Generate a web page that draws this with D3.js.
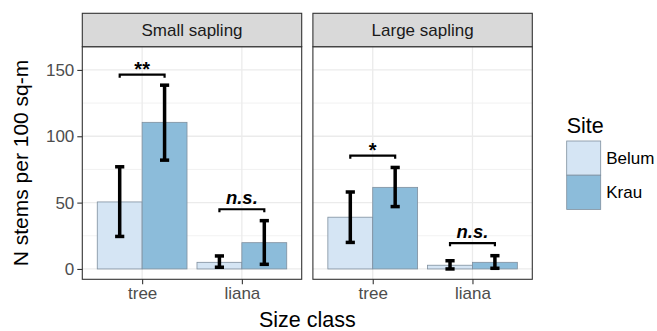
<!DOCTYPE html>
<html>
<head>
<meta charset="utf-8">
<script src="https://cdn.jsdelivr.net/npm/d3@7"></script>
<style>
  html, body { margin: 0; padding: 0; background: #fff; }
  svg { display: block; font-family: "Liberation Sans", Arial, Helvetica, sans-serif; }
</style>
</head>
<body>
<svg id="chart" width="657" height="331"></svg>
<script>
// ---- data ----
const panels = ["Small sapling", "Large sapling"];
const categories = ["tree", "liana"];
const sites = ["Belum", "Krau"];
const yTicks = [0, 50, 100, 150];

// mean values per panel, per site, per category [tree, liana]
const smallBelum = [50.5, 5.0];
const smallKrau = [110.5, 19.8];
const largeBelum = [39.0, 2.8];
const largeKrau = [61.5, 5.0];

// error bar lower / upper
const smallBelumLow = [24.5, 1.3];
const smallBelumHigh = [77.0, 9.8];
const smallKrauLow = [82.0, 3.5];
const smallKrauHigh = [138.5, 36.4];
const largeBelumLow = [20.0, 0.0];
const largeBelumHigh = [58.0, 6.2];
const largeKrauLow = [47.0, 0.5];
const largeKrauHigh = [76.5, 10.0];

// significance brackets: y position and label per panel, per category
const smallSigY = [146.4, 45.0];
const smallSigLabel = ["**", "n.s."];
const largeSigY = [85.4, 19.4];
const largeSigLabel = ["*", "n.s."];

// ---- build table ----
const panelData = [
  { name: panels[0], means: [smallBelum, smallKrau], low: [smallBelumLow, smallKrauLow], high: [smallBelumHigh, smallKrauHigh], sigY: smallSigY, sigLabel: smallSigLabel },
  { name: panels[1], means: [largeBelum, largeKrau], low: [largeBelumLow, largeKrauLow], high: [largeBelumHigh, largeKrauHigh], sigY: largeSigY, sigLabel: largeSigLabel }
];

const colors = { Belum: "#d5e5f4", Krau: "#8cbcda" };

// ---- layout ----
const svg = d3.select("#chart");
const stripTop = 13.3, stripBottom = 46.7, panelBottom = 279.3;
const panelX = [82.3, 312.9];
const panelW = 219.4;

const y = d3.scaleLinear().domain([-7.8, 167.5]).range([panelBottom, stripBottom]);

// ggplot-style discrete expansion: positions at 0.6 and 1.6 of 2.2 units
const unit = panelW / 2.2;
const xCenter = d3.scalePoint().domain(categories).range([0.6 * unit, 1.6 * unit]);
const dodge = d3.scaleBand().domain(sites).range([-0.45 * unit, 0.45 * unit]).padding(0);

const minorTicks = [25, 75, 125];

panelData.forEach((p, pi) => {
  const g = svg.append("g").attr("transform", `translate(${panelX[pi]},0)`);

  g.append("rect").attr("x", 0).attr("y", stripBottom).attr("width", panelW).attr("height", panelBottom - stripBottom).attr("fill", "#fff");

  g.selectAll(".minor").data(minorTicks).enter().append("line")
    .attr("x1", 0).attr("x2", panelW)
    .attr("y1", d => y(d)).attr("y2", d => y(d))
    .attr("stroke", "#ebebeb").attr("stroke-width", 0.7);
  g.selectAll(".major").data(yTicks).enter().append("line")
    .attr("x1", 0).attr("x2", panelW)
    .attr("y1", d => y(d)).attr("y2", d => y(d))
    .attr("stroke", "#ebebeb").attr("stroke-width", 1.3);
  g.selectAll(".vmajor").data(categories).enter().append("line")
    .attr("x1", d => xCenter(d)).attr("x2", d => xCenter(d))
    .attr("y1", stripBottom).attr("y2", panelBottom)
    .attr("stroke", "#ebebeb").attr("stroke-width", 1.3);

  // bars
  sites.forEach((s, si) => {
    g.selectAll(".bar" + si).data(categories).enter().append("rect")
      .attr("x", d => xCenter(d) + dodge(s))
      .attr("width", dodge.bandwidth())
      .attr("y", (d, ci) => y(p.means[si][ci]))
      .attr("height", (d, ci) => y(0) - y(p.means[si][ci]))
      .attr("fill", colors[s])
      .attr("stroke", "#7f8f9e").attr("stroke-width", 0.8);
  });

  // error bars
  const capW = 4.6;
  sites.forEach((s, si) => {
    categories.forEach((c, ci) => {
      const cx = xCenter(c) + dodge(s) + dodge.bandwidth() / 2;
      const lo = y(p.low[si][ci]), hi = y(p.high[si][ci]);
      const eg = g.append("g").attr("stroke", "#000").attr("stroke-width", 3.5).attr("stroke-linecap", "butt");
      eg.append("line").attr("x1", cx).attr("x2", cx).attr("y1", lo).attr("y2", hi);
      eg.append("line").attr("x1", cx - capW).attr("x2", cx + capW).attr("y1", lo).attr("y2", lo);
      eg.append("line").attr("x1", cx - capW).attr("x2", cx + capW).attr("y1", hi).attr("y2", hi);
    });
  });

  // significance brackets
  categories.forEach((c, ci) => {
    const x1 = xCenter(c) + dodge("Belum") + dodge.bandwidth() / 2;
    const x2 = xCenter(c) + dodge("Krau") + dodge.bandwidth() / 2;
    const by = y(p.sigY[ci]);
    const tip = 3;
    g.append("path")
      .attr("d", `M${x1},${by + tip}V${by}H${x2}V${by + tip}`)
      .attr("fill", "none").attr("stroke", "#000").attr("stroke-width", 2.2);
    const lab = p.sigLabel[ci];
    const isStar = /^\*+$/.test(lab);
    g.append("text")
      .attr("x", (x1 + x2) / 2)
      .attr("y", isStar ? by + 1 : by - 5.5)
      .attr("text-anchor", "middle")
      .attr("font-size", isStar ? 20 : 18.5)
      .attr("font-weight", "bold")
      .attr("font-style", isStar ? "normal" : "italic")
      .attr("fill", "#000")
      .text(lab);
  });

  // panel border
  g.append("rect").attr("x", 0).attr("y", stripBottom).attr("width", panelW).attr("height", panelBottom - stripBottom)
    .attr("fill", "none").attr("stroke", "#333").attr("stroke-width", 1.1);

  // strip
  g.append("rect").attr("x", 0).attr("y", stripTop).attr("width", panelW).attr("height", stripBottom - stripTop)
    .attr("fill", "#d9d9d9").attr("stroke", "#333").attr("stroke-width", 1.1);
  g.append("text").attr("x", panelW / 2).attr("y", (stripTop + stripBottom) / 2 + 6)
    .attr("text-anchor", "middle").attr("font-size", 17).attr("fill", "#1a1a1a").text(p.name);

  // x axis
  const xAxis = d3.axisBottom(xCenter).tickSize(5).tickPadding(3);
  const xg = g.append("g").attr("transform", `translate(0,${panelBottom})`).call(xAxis);
  xg.select(".domain").remove();
  xg.selectAll(".tick line").attr("stroke", "#333").attr("stroke-width", 1.1);
  xg.selectAll(".tick text").attr("font-size", 17).attr("fill", "#4d4d4d").attr("font-family", "Liberation Sans, Arial, sans-serif");

  if (pi === 0) {
    const yAxis = d3.axisLeft(y).tickValues(yTicks).tickSize(5).tickPadding(3);
    const yg = g.append("g").call(yAxis);
    yg.select(".domain").remove();
    yg.selectAll(".tick line").attr("stroke", "#333").attr("stroke-width", 1.1);
    yg.selectAll(".tick text").attr("font-size", 17).attr("fill", "#4d4d4d").attr("font-family", "Liberation Sans, Arial, sans-serif");
  }
});

// axis titles
svg.append("text").attr("x", (panelX[0] + panelX[1] + panelW) / 2).attr("y", 327)
  .attr("text-anchor", "middle").attr("font-size", 21.5).attr("fill", "#000").text("Size class");
svg.append("text").attr("transform", `translate(27.5,${(stripBottom + panelBottom) / 2}) rotate(-90)`)
  .attr("text-anchor", "middle").attr("font-size", 21).attr("fill", "#000").text("N stems per 100 sq-m");

// legend
const lg = svg.append("g").attr("transform", "translate(566.7,0)");
lg.append("text").attr("x", 0).attr("y", 133).attr("font-size", 21.5).attr("fill", "#000").text("Site");
const keyH = 34.2;
sites.forEach((s, i) => {
  lg.append("rect").attr("x", 0).attr("y", 141 + i * keyH).attr("width", 34).attr("height", keyH)
    .attr("fill", colors[s]).attr("stroke", "#7f8f9e").attr("stroke-width", 0.8);
  lg.append("text").attr("x", 39.5).attr("y", 141 + i * keyH + keyH / 2 + 6)
    .attr("font-size", 17).attr("fill", "#000").text(s);
});
</script>
</body>
</html>
